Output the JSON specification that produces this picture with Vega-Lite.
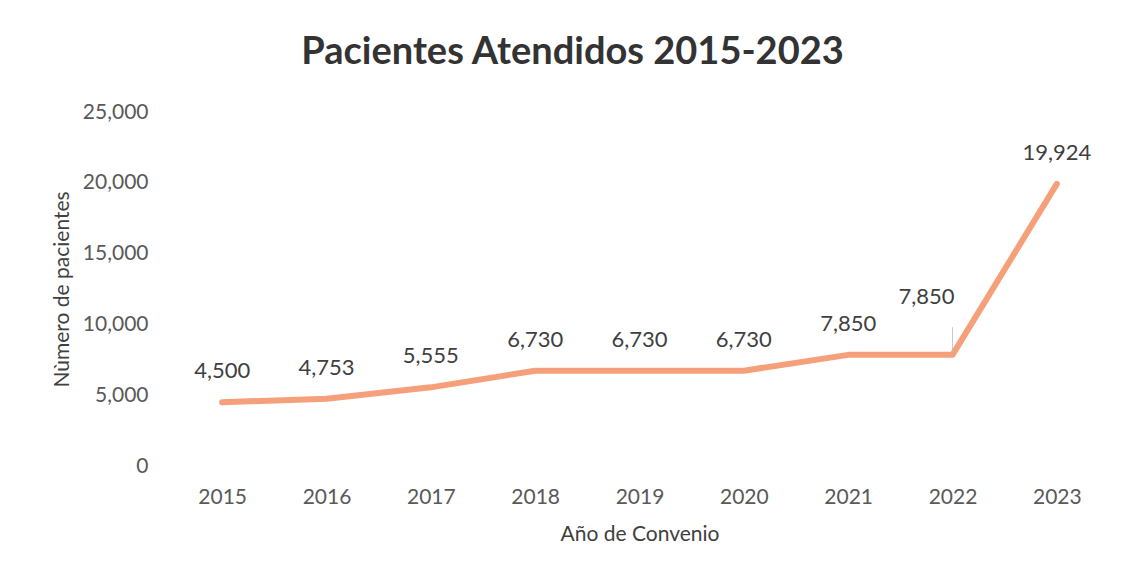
{
  "$schema": "https://vega.github.io/schema/vega-lite/v6.json",
  "autosize": {"type": "none"},
  "width": 939,
  "height": 354,
  "padding": {"left": 170, "top": 112, "right": 19, "bottom": 112},
  "background": "white",
  "title": {
    "text": "Pacientes Atendidos 2015-2023",
    "font": "Lato",
    "fontSize": 38,
    "fontWeight": "bold",
    "color": "#333333",
    "anchor": "middle",
    "dx": -67,
    "offset": 29
  },
  "data": {
    "values": [
      {"year": "2015", "pacientes": 4500},
      {"year": "2016", "pacientes": 4753},
      {"year": "2017", "pacientes": 5555},
      {"year": "2018", "pacientes": 6730},
      {"year": "2019", "pacientes": 6730},
      {"year": "2020", "pacientes": 6730},
      {"year": "2021", "pacientes": 7850},
      {"year": "2022", "pacientes": 7850},
      {"year": "2023", "pacientes": 19924}
    ]
  },
  "encoding": {
    "x": {
      "field": "year",
      "type": "ordinal",
      "scale": {"type": "point", "padding": 0.5},
      "axis": {
        "title": "Año de Convenio",
        "labelAngle": 0,
        "domain": false,
        "ticks": false,
        "labelPadding": 20,
        "titlePadding": 16,
        "labelFont": "Lato",
        "labelFontSize": 21,
        "labelColor": "#595959",
        "titleFont": "Lato",
        "titleFontSize": 21,
        "titleFontWeight": "normal",
        "titleColor": "#404040",
        "grid": false
      }
    },
    "y": {
      "field": "pacientes",
      "type": "quantitative",
      "scale": {"domain": [0, 25000]},
      "axis": {
        "title": "Nùmero de pacientes",
        "values": [0, 5000, 10000, 15000, 20000, 25000],
        "format": ",d",
        "domain": false,
        "ticks": false,
        "grid": false,
        "labelPadding": 22,
        "titlePadding": 10,
        "labelFont": "Lato",
        "labelFontSize": 21,
        "labelColor": "#595959",
        "titleFont": "Lato",
        "titleFontSize": 21,
        "titleFontWeight": "normal",
        "titleColor": "#404040"
      }
    }
  },
  "layer": [
    {
      "mark": {"type": "line", "color": "#F5A07A", "strokeWidth": 6, "strokeCap": "round", "strokeJoin": "round"}
    },
    {
      "transform": [{"filter": "datum.year != '2022'"}],
      "mark": {"type": "text", "dy": -31, "font": "Lato", "fontSize": 22, "color": "#404040", "baseline": "middle"},
      "encoding": {"text": {"field": "pacientes", "type": "quantitative", "format": ",d"}}
    },
    {
      "transform": [{"filter": "datum.year == '2022'"}],
      "mark": {"type": "rule", "color": "#bbbbbb", "strokeWidth": 0.8},
      "encoding": {"y": {"datum": 8000}, "y2": {"datum": 9800}}
    },
    {
      "transform": [{"filter": "datum.year == '2022'"}],
      "mark": {"type": "text", "dx": -26, "dy": -58, "font": "Lato", "fontSize": 22, "color": "#404040", "baseline": "middle"},
      "encoding": {"text": {"field": "pacientes", "type": "quantitative", "format": ",d"}}
    }
  ],
  "config": {"view": {"stroke": null}}
}
